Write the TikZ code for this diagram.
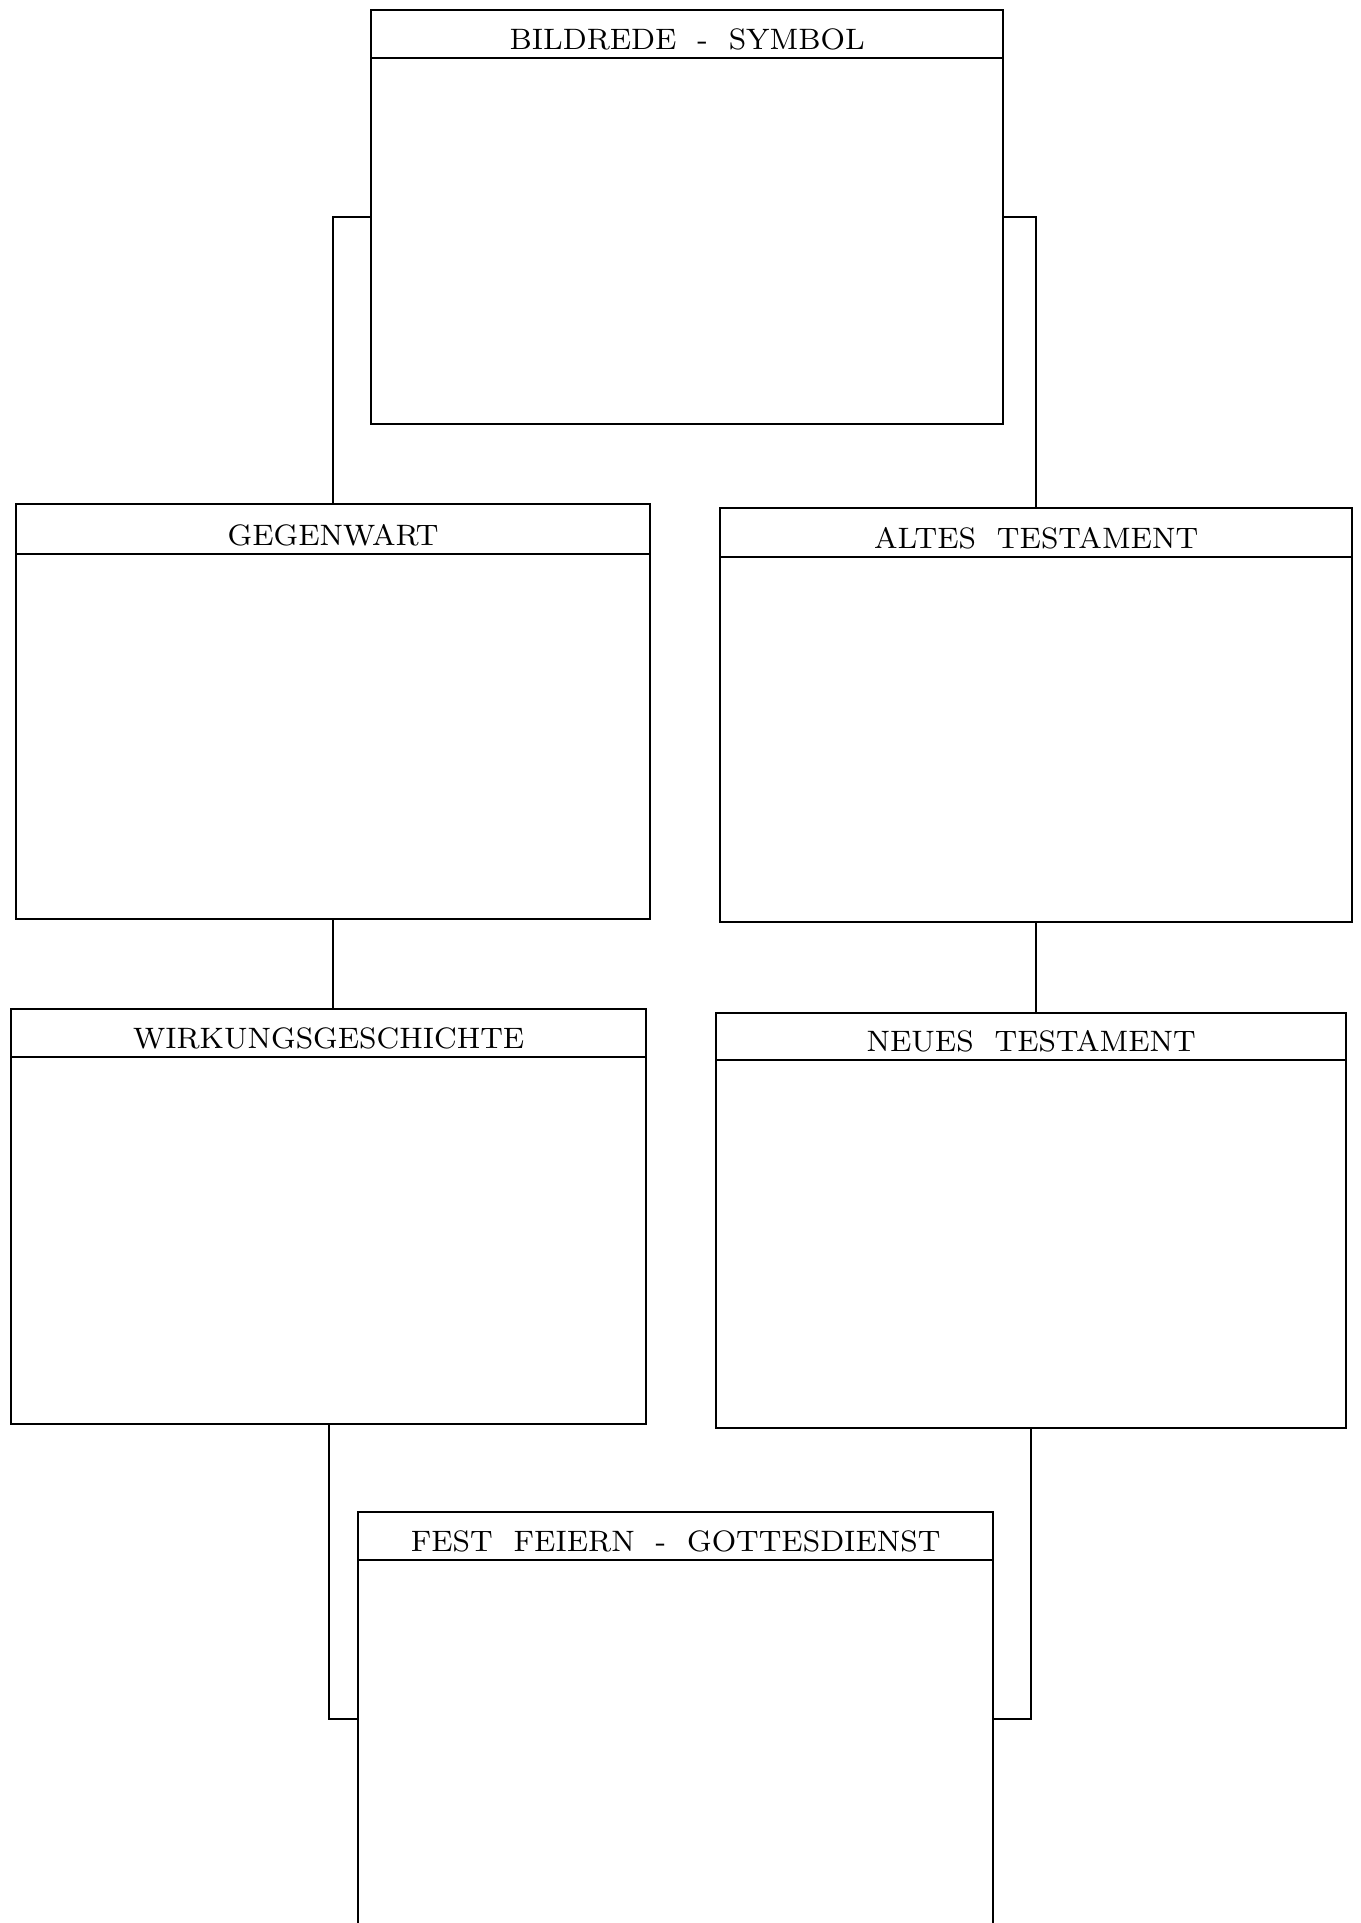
\documentclass[tikz,border=0pt]{standalone}
\begin{document}
\begin{tikzpicture}[x=0.01cm,y=-0.01cm,
  every node/.style={outer sep=0pt,inner sep=0pt},
  frame/.style={draw,line width=0.5pt,rectangle,anchor=north west},
  hdr/.style={draw,line width=0.5pt,rectangle,anchor=north},
  ttl/.style={anchor=base,font=\fontsize{8.4}{10}\selectfont},
  conn/.style={line width=0.5pt}]
\useasboundingbox (0,0) rectangle (1361,1923);
\clip (0,0) rectangle (1361,1923);
\fill[white] (0,0) rectangle (1361,1923);
% boxes
\node[frame,minimum width=6.32cm,minimum height=4.14cm] (top) at (371,10) {};
\node[hdr,minimum width=6.32cm,minimum height=0.48cm] (tophdr) at (top.north) {};
\node[ttl] (toptxt) at ([yshift=0.09cm]tophdr.south) {BILDREDE~~-~~SYMBOL};

\node[frame,minimum width=6.34cm,minimum height=4.15cm] (geg) at (16,504) {};
\node[hdr,minimum width=6.34cm,minimum height=0.50cm] (geghdr) at (geg.north) {};
\node[ttl] (gegtxt) at ([yshift=0.09cm]geghdr.south) {GEGENWART};

\node[frame,minimum width=6.32cm,minimum height=4.14cm] (alt) at (720,508) {};
\node[hdr,minimum width=6.32cm,minimum height=0.49cm] (althdr) at (alt.north) {};
\node[ttl] (alttxt) at ([yshift=0.09cm]althdr.south) {ALTES~~TESTAMENT};

\node[frame,minimum width=6.35cm,minimum height=4.15cm] (wirk) at (11,1009) {};
\node[hdr,minimum width=6.35cm,minimum height=0.48cm] (wirkhdr) at (wirk.north) {};
\node[ttl] (wirktxt) at ([yshift=0.09cm]wirkhdr.south) {WIRKUNGSGESCHICHTE};

\node[frame,minimum width=6.30cm,minimum height=4.15cm] (neu) at (716,1013) {};
\node[hdr,minimum width=6.30cm,minimum height=0.47cm] (neuhdr) at (neu.north) {};
\node[ttl] (neutxt) at ([yshift=0.09cm]neuhdr.south) {NEUES~~TESTAMENT};

\node[frame,minimum width=6.35cm,minimum height=4.14cm] (fest) at (358,1512) {};
\node[hdr,minimum width=6.35cm,minimum height=0.48cm] (festhdr) at (fest.north) {};
\node[ttl] (festtxt) at ([yshift=0.09cm]festhdr.south) {FEST~~FEIERN~~-~~GOTTESDIENST};

% connectors
\draw[conn] (top.west) -| (geg.north);
\draw[conn] (top.east) -| (alt.north);
\draw[conn] (geg.south) -- (geg.south |- wirk.north);
\draw[conn] (alt.south) -- (alt.south |- neu.north);
\draw[conn] (wirk.south) |- (fest.west);
\draw[conn] (neu.south) |- (fest.east);
\end{tikzpicture}
\end{document}
